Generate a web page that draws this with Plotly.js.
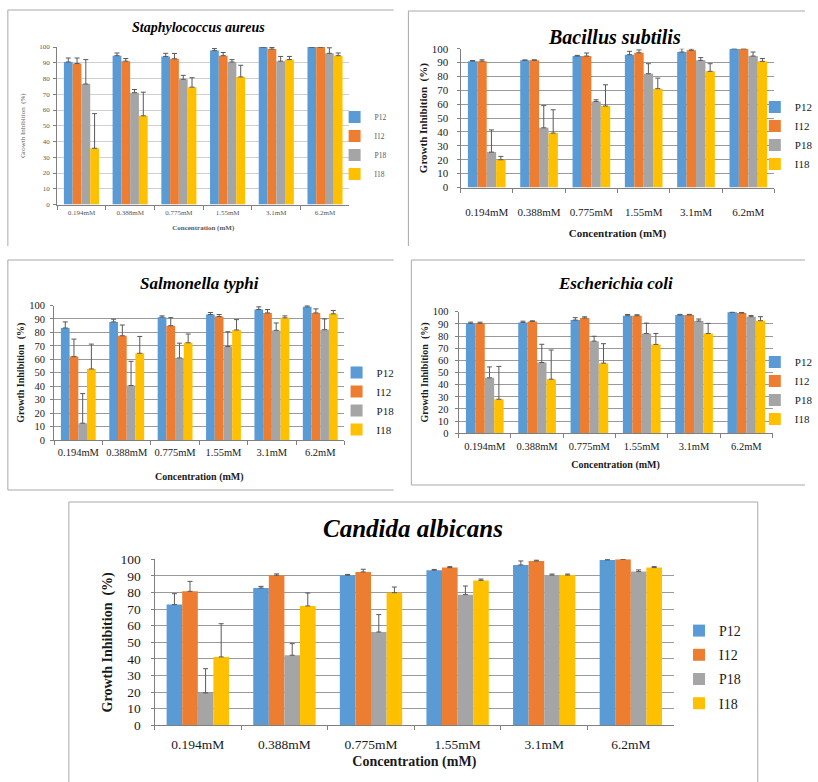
<!DOCTYPE html>
<html><head><meta charset="utf-8">
<script src="https://cdn.plot.ly/plotly-3.0.1.min.js"></script>
<style>html,body{margin:0;padding:0;background:#fff}#chart{width:818px;height:782px}</style>
</head><body><div id="chart"></div>
<script>
// ---------- data ----------
const categories = ['0.194mM','0.388mM','0.775mM','1.55mM','3.1mM','6.2mM'];
const seriesNames = ['P12','I12','P18','I18'];
const seriesColors = ['#5B9BD5','#ED7D31','#A5A5A5','#FFC000'];

// Staphylococcus aureus
const saP12 = [90.5, 94.5, 94.0, 97.7, 100, 100];
const saI12 = [89.5, 91.0, 92.5, 94.5, 98.7, 100];
const saP18 = [76.5, 71.0, 79.5, 90.5, 91.0, 96.0];
const saI18 = [35.7, 56.3, 74.5, 81.0, 92.0, 94.5];
const saP12Err = [2.5, 1.7, 2.0, 1.3, 0, 0];
const saI12Err = [3.5, 1.7, 3.4, 2.0, 1.0, 0];
const saP18Err = [15.5, 2.0, 2.5, 1.5, 3.0, 3.5];
const saI18Err = [22.0, 15.0, 6.0, 7.4, 2.0, 1.7];

// Bacillus subtilis
const bsP12 = [91.0, 91.6, 94.7, 95.7, 97.6, 100];
const bsI12 = [91.0, 91.6, 94.7, 97.1, 98.8, 100];
const bsP18 = [25.5, 43.0, 62.0, 82.0, 91.6, 94.7];
const bsI18 = [20.0, 39.2, 58.7, 71.2, 83.7, 90.9];
const bsP12Err = [0.5, 0.3, 0.5, 2.4, 2.4, 0];
const bsI12Err = [1.0, 0.4, 2.2, 2.0, 1.0, 0];
const bsP18Err = [16.0, 16.0, 1.2, 7.2, 2.0, 2.9];
const bsI18Err = [2.4, 16.8, 15.3, 7.6, 5.5, 2.0];

// Salmonella typhi
const stP12 = [83.3, 87.8, 91.3, 93.3, 97.0, 99.0];
const stI12 = [62.0, 77.5, 85.0, 91.8, 94.5, 94.5];
const stP18 = [12.5, 40.5, 61.0, 69.5, 81.5, 82.0];
const stI18 = [52.8, 64.5, 72.3, 81.8, 90.8, 93.8];
const stP12Err = [4.5, 2.0, 1.0, 1.5, 2.0, 1.0];
const stI12Err = [13.0, 8.0, 6.0, 1.5, 2.5, 3.0];
const stP18Err = [22.0, 18.0, 11.0, 11.0, 5.5, 8.0];
const stI18Err = [18.5, 12.5, 6.5, 7.7, 1.5, 2.5];

// Escherichia coli
const ecP12 = [90.4, 91.2, 93.1, 96.7, 97.3, 99.5];
const ecI12 = [90.4, 92.0, 94.8, 96.7, 97.3, 98.9];
const ecP18 = [45.6, 58.2, 75.8, 82.1, 92.3, 95.9];
const ecI18 = [28.0, 44.5, 57.7, 73.1, 82.1, 92.6];
const ecP12Err = [1.0, 1.0, 2.0, 1.0, 0.5, 0.3];
const ecI12Err = [1.0, 0.5, 1.0, 0.8, 0.5, 0.5];
const ecP18Err = [9.0, 15.0, 4.0, 8.5, 1.7, 1.0];
const ecI18Err = [27.0, 24.0, 16.0, 9.0, 8.3, 3.3];

// Candida albicans
const caP12 = [72.7, 82.7, 90.4, 93.4, 96.6, 99.6];
const caI12 = [80.7, 90.4, 92.4, 95.0, 99.0, 100];
const caP18 = [19.5, 42.2, 56.2, 78.7, 90.5, 92.6];
const caI18 = [41.2, 71.9, 79.9, 87.3, 90.5, 95.0];
const caP12Err = [6.6, 1.0, 0.5, 0.5, 2.4, 0.3];
const caI12Err = [6.0, 0.8, 1.6, 0.6, 0.5, 0];
const caP18Err = [14.6, 7.0, 10.5, 5.2, 0.6, 1.0];
const caI18Err = [20.0, 7.8, 3.4, 0.8, 0.6, 0.6];

const panelTitles = ['Staphylococcus aureus','Bacillus subtilis','Salmonella typhi','Escherichia coli','Candida albicans'];
const panelValues = [[saP12,saI12,saP18,saI18],[bsP12,bsI12,bsP18,bsI18],[stP12,stI12,stP18,stI18],[ecP12,ecI12,ecP18,ecI18],[caP12,caI12,caP18,caI18]];
const panelErrors = [[saP12Err,saI12Err,saP18Err,saI18Err],[bsP12Err,bsI12Err,bsP18Err,bsI18Err],[stP12Err,stI12Err,stP18Err,stI18Err],[ecP12Err,ecI12Err,ecP18Err,ecI18Err],[caP12Err,caI12Err,caP18Err,caI18Err]];
const yTitle = 'Growth Inhibition  (%)';
const xTitle = 'Concentration (mM)';

// ---------- layout (pixel geometry) ----------
const W = 818, H = 782;
const px = x => x / W;
const py = y => 1 - y / H;
const FONT = 'Liberation Serif, Times New Roman, serif';

const geo = [
  {x0:58, x1:355, yT:47, yB:204.5, tX:202, tY:28, tS:14, tick:7, ax:7, tc:'#595959', grid:'#d0d0d0', lgX:340, lgY:145.5, lgS:7.5, lgGap:0, ylStand:12, xlStand:9, tkStandX:1, tkStandY:2, yBold:false},
  {x0:468, x1:787, yT:48.7, yB:187.5, tX:624, tY:37, tS:20, tick:11, ax:11, tc:'#1a1a1a', grid:'#9a9a9a', lgX:767, lgY:135.5, lgS:11, lgGap:0, ylStand:2, xlStand:12, tkStandX:14, tkStandY:6, yBold:true},
  {x0:55, x1:350, yT:305.5, yB:440, tX:203, tY:283, tS:17, tick:10.5, ax:10, tc:'#1a1a1a', grid:'#9a9a9a', lgX:342, lgY:401, lgS:11, lgGap:0, ylStand:2, xlStand:16, tkStandX:2, tkStandY:3, yBold:true},
  {x0:466, x1:785, yT:311.7, yB:433.3, tX:625, tY:283, tS:17, tick:10.5, ax:10, tc:'#1a1a1a', grid:'#9a9a9a', lgX:767, lgY:390.5, lgS:11, lgGap:0, ylStand:2, xlStand:10, tkStandX:3, tkStandY:4, yBold:true},
  {x0:157, x1:685, yT:559.3, yB:725.3, tX:420, tY:528, tS:25, tick:13.5, ax:14, tc:'#1a1a1a', grid:'#9a9a9a', lgX:690, lgY:667, lgS:14, lgGap:3, ylStand:4, xlStand:5, tkStandX:6, tkStandY:7, yBold:true}
];

const traces = [];
const layout = {
  width: W, height: H,
  margin: {l:0, r:0, t:0, b:0},
  paper_bgcolor: '#ffffff', plot_bgcolor: '#ffffff',
  barmode: 'group', bargap: 0.28, bargroupgap: 0,
  font: {family: FONT, color: '#1a1a1a'},
  annotations: [], shapes: []
};

geo.forEach((g, k) => {
  const i = k + 1;
  const xa = i === 1 ? 'x' : 'x' + i;
  const ya = i === 1 ? 'y' : 'y' + i;
  const lg = i === 1 ? 'legend' : 'legend' + i;
  seriesNames.forEach((name, s) => {
    traces.push({
      type: 'bar', name: name, x: categories, y: panelValues[k][s],
      xaxis: xa, yaxis: ya, legend: lg, legendgroup: lg + '_' + name, cliponaxis: false,
      marker: {color: seriesColors[s], line: {width: 0}},
      error_y: {type: 'data', symmetric: false, array: panelErrors[k][s],
                arrayminus: panelErrors[k][s].map(() => 0),
                color: '#595959', thickness: 1, width: 2.5},
      hoverinfo: 'x+y+name'
    });
  });
  layout[i === 1 ? 'xaxis' : 'xaxis' + i] = {
    domain: [px(g.x0), px(g.x1)], anchor: ya, type: 'category',
    showline: true, linecolor: '#808080', linewidth: 1,
    ticks: 'outside', tickson: 'boundaries', ticklen: 4, tickcolor: '#808080',
    tickangle: 0, ticklabelstandoff: g.tkStandX,
    showgrid: false, zeroline: false, automargin: false, fixedrange: true,
    tickfont: {family: FONT, size: g.tick, color: g.tc},
    title: {text: '<b>' + xTitle + '</b>', standoff: g.xlStand,
            font: {family: FONT, size: g.ax, color: g.tc}}
  };
  layout[i === 1 ? 'yaxis' : 'yaxis' + i] = {
    domain: [py(g.yB), py(g.yT)], anchor: xa, range: [0, 100],
    tick0: 0, dtick: 10,
    showline: true, linecolor: '#808080', linewidth: 1,
    ticks: 'outside', ticklen: 3, tickcolor: '#808080',
    ticklabelstandoff: g.tkStandY,
    showgrid: true, gridcolor: g.grid, gridwidth: 1,
    zeroline: false, automargin: false, fixedrange: true,
    tickfont: {family: FONT, size: g.tick, color: g.tc},
    title: {text: g.yBold ? '<b>' + yTitle + '</b>' : yTitle, standoff: g.ylStand,
            font: {family: FONT, size: g.ax, color: g.tc}}
  };
  layout[lg] = {
    x: px(g.lgX), y: py(g.lgY), xanchor: 'left', yanchor: 'middle',
    bgcolor: 'rgba(0,0,0,0)', borderwidth: 0, tracegroupgap: g.lgGap,
    font: {family: FONT, size: g.lgS, color: g.tc}
  };
  layout.annotations.push({
    xref: 'paper', yref: 'paper', x: px(g.tX), y: py(g.tY),
    xanchor: 'center', yanchor: 'middle', showarrow: false,
    text: '<b><i>' + panelTitles[k] + '</i></b>',
    font: {family: FONT, size: g.tS, color: '#000000'}
  });
});

// panel frames (the source figure is a collage of framed images)
const frameLines = [
  [8,10,400,10],[8,10,8,246],
  [415,11,818,11],[415,11,415,246],
  [8,260,400,260],[8,260,8,490],[8,490,400,490],
  [418,260,818,260],[418,260,418,485],[418,485,818,485],
  [70,502,770,502],[70,502,70,782],[770,502,770,782]
];
frameLines.forEach(l => layout.shapes.push({
  type: 'line', xref: 'paper', yref: 'paper',
  x0: px(l[0]), y0: py(l[1]), x1: px(l[2]), y1: py(l[3]),
  line: {color: '#a8a8a8', width: 1}, layer: 'below'
}));

Plotly.newPlot('chart', traces, layout, {displayModeBar: false, staticPlot: true});
</script>
</body></html>
